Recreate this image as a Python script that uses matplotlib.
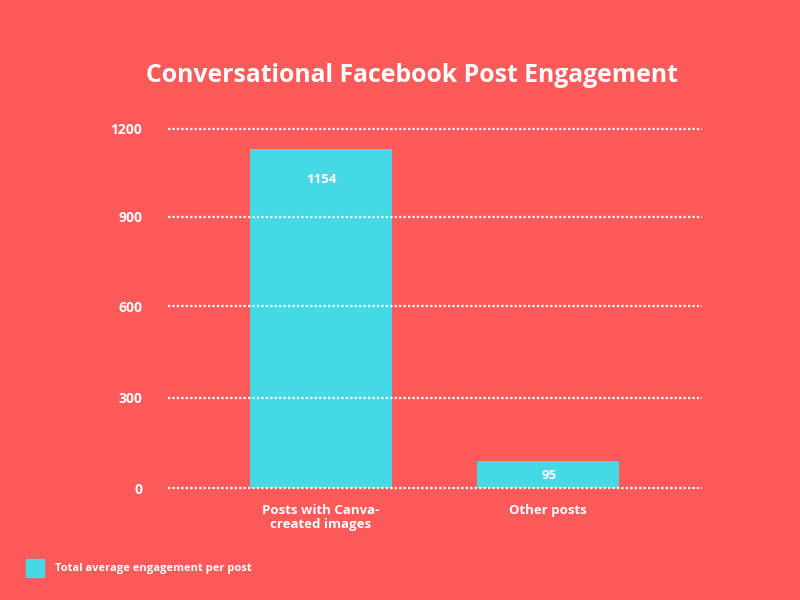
import matplotlib
matplotlib.use('Agg')
import matplotlib.pyplot as plt
from matplotlib.patches import Patch

categories = ['Posts with Canva-\ncreated images', 'Other posts']
# bar heights as drawn against the axis, the printed labels differ a bit
bar_heights = [1134, 90]
bar_labels = ['1154', '95']
y_ticks = [0, 301, 608, 906, 1200]
y_tick_labels = ['0', '300', '600', '900', '1200']
legend_label = 'Total average engagement per post'
title = 'Conversational Facebook Post Engagement'

BG = '#FF5A5A'
BAR = '#45D9E6'

plt.rcParams['font.family'] = ['Open Sans', 'DejaVu Sans']
plt.rcParams['font.weight'] = 'bold'

fig = plt.figure(figsize=(8, 6), dpi=100, facecolor=BG)
ax = fig.add_axes([168 / 800, 1 - 488 / 600, 534 / 800, 359 / 600], facecolor=BG)

x = range(len(categories))
ax.bar(x, bar_heights, width=0.624, color=BAR, zorder=2)
ax.set_xlim(-0.674, 1.679)
ax.set_ylim(0, 1200)

ax.set_yticks(y_ticks)
ax.set_yticklabels(y_tick_labels)
ax.set_xticks(list(x))
ax.set_xticklabels(categories, color='white', fontsize=9.5, linespacing=1.13)
ax.tick_params(axis='both', length=0, colors='white')
ax.tick_params(axis='y', pad=18.7, labelsize=10)
ax.tick_params(axis='x', pad=11.5)

# dotted grid, not clipped so the 0 and 1200 lines keep full width
ax.grid(axis='y', color='white', linestyle=(0, (1, 1)), linewidth=1.6, zorder=1, clip_on=False)
ax.set_axisbelow(False)
for line, tick in zip(ax.get_ygridlines(), y_ticks):
    line.set_zorder(3 if tick == 0 else 1)
for spine in ax.spines.values():
    spine.set_visible(False)

for i, (h, label) in enumerate(zip(bar_heights, bar_labels)):
    # label sits just under the top of the bar
    ax.annotate(label, (i, h), xytext=(0.7, -22.3 if h > 200 else -10.7), textcoords='offset points',
                ha='center', va='center', color='white', fontsize=9.5, zorder=4)

fig.text(411.5 / 800, 1 - 76 / 600, title, ha='center', va='center', color='white', fontsize=17.8)

fig.legend(handles=[Patch(color=BAR, label=legend_label)], loc='lower left',
           bbox_to_anchor=(26 / 800, 1 - 577 / 600), frameon=False, borderpad=0, borderaxespad=0,
           handlelength=1.6, handleheight=2.12, handletextpad=1,
           labelcolor='white', prop={'size': 8, 'weight': 'bold'})

fig.savefig('out.png', dpi=100, facecolor=BG)
